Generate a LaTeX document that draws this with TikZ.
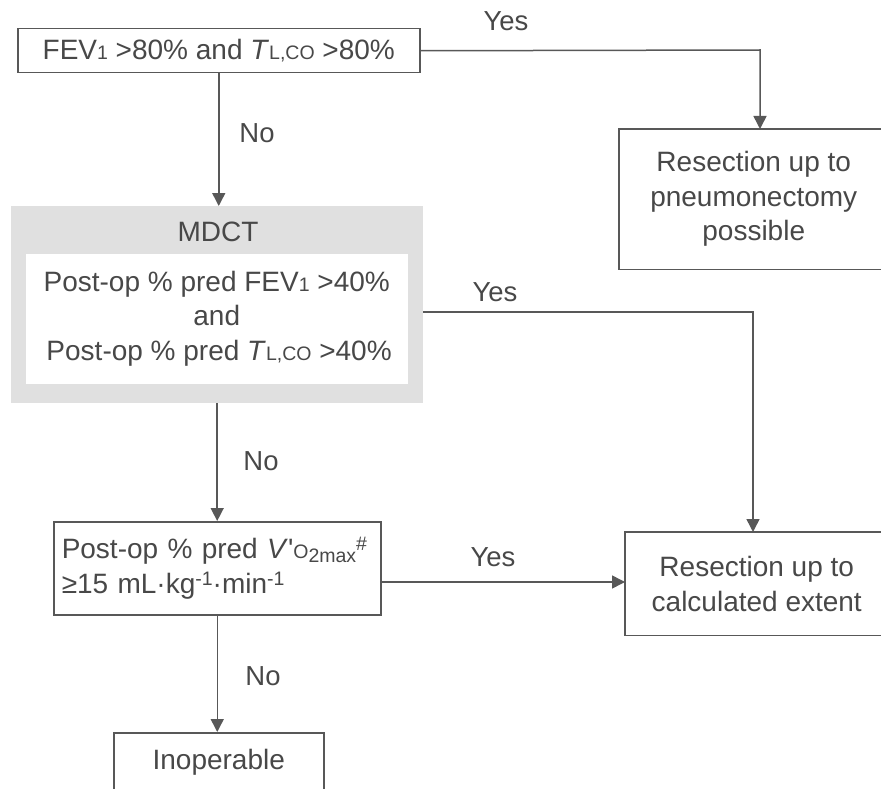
\documentclass[tikz,border=0pt]{standalone}
\usepackage{fontspec}
\setmainfont{Liberation Sans}
\usetikzlibrary{arrows.meta}

\definecolor{txtgray}{RGB}{72,72,72}
\definecolor{linegray}{RGB}{88,88,88}
\definecolor{mdctgray}{RGB}{224,224,224}
\newcommand{\smtxt}[1]{{\fontsize{19.5}{19.5}\selectfont #1}}
\newcommand{\TLco}{\textit{T}\smtxt{L,CO}}

\tikzset{
  flowbox/.style={draw=linegray, line width=1.5pt, fill=white, text=txtgray, inner sep=0pt,
    font=\fontsize{28}{34.5}\selectfont, align=center},
  openbox/.style={flowbox, draw=none},
  boxline/.style={draw=linegray, line width=1.5pt},
  lbl/.style={text=txtgray, font=\fontsize{27.5}{34}\selectfont, inner sep=0pt},
  arr/.style={draw=linegray, line width=1.5pt, -{Triangle[width=13pt,length=13pt]}},
}

\begin{document}
\begin{tikzpicture}[x=1pt,y=1pt,yscale=-1,xscale=1]
\useasboundingbox (0,0) rectangle (881,789);
\clip (0,0) rectangle (881,789);

%Boxes
\node[flowbox, minimum width=402pt, minimum height=44pt, anchor=north west] (fev) at (17,28)
  {FEV\smtxt{1} >80\% and \TLco{} >80\%};
\node[openbox, minimum width=268pt, minimum height=139pt, anchor=north west] (pneum) at (619,129)
  {Resection up to\\pneumonectomy\\possible};
\draw[boxline] (pneum.north east) ++(40,0) -- (pneum.north west) -- (pneum.south west) -- ++(310,0);

%Shape: MDCT panel
\node[fill=mdctgray, minimum width=412pt, minimum height=197pt, inner sep=0pt, anchor=north west] (mdct) at (11,206) {};
\node[lbl, font=\fontsize{28}{34}\selectfont] (mdcttitle) at (218,232) {MDCT};
\node[openbox, minimum width=382pt, minimum height=130pt, anchor=north west] (crit) at (25,253)
  {Post-op \% pred FEV\smtxt{1} >40\%\\and\\\,Post-op \% pred \TLco{} >40\%};

\node[flowbox, minimum width=327pt, minimum height=93pt, text width=311pt, inner xsep=8pt, align=left, anchor=north west] (vo2) at (53,521)
  {Post-op \% pred \textit{V}\textquotesingle\smtxt{O\raisebox{-4pt}{2max}}\raisebox{8pt}{\smtxt{\#}}\\
   ≥15 mL·kg\raisebox{8pt}{\smtxt{-1}}·min\raisebox{8pt}{\smtxt{-1}}};
\node[openbox, minimum width=262pt, minimum height=102pt, anchor=north west] (calc) at (625,532)
  {Resection up to\\calculated extent};
\draw[boxline] (calc.north east) ++(40,0) -- (calc.north west) -- (calc.south west) -- ++(300,0);
\node[flowbox, minimum width=210pt, minimum height=60pt, anchor=north west] (inop) at (113,732)
  {Inoperable};

%Connectors
\coordinate (yes1) at (760,50);
\coordinate (yes2) at (753,312);
\coordinate (yes3) at (380,582);
\draw[arr] (fev.east) -- (yes1) -- (yes1 |- pneum.north);
\draw[arr] (fev.south) -- (fev.south |- mdct.north);
\draw[arr] (mdct.east |- yes2) -- (yes2) -- (yes2 |- calc.north);
\draw[arr] (mdct.south) -- (mdct.south |- vo2.north);
\draw[arr] (vo2.east |- yes3) -- (calc.west |- yes3);
\draw[arr] (vo2.south) -- (vo2.south |- inop.north);

% Text Node
\node[lbl] (yestxt1) at (506,21) {Yes};
\node[lbl] (notxt1) at (257,133) {No};
\node[lbl] (yestxt2) at (495,292) {Yes};
\node[lbl] (notxt2) at (261,461) {No};
\node[lbl] (yestxt3) at (493,557) {Yes};
\node[lbl] (notxt3) at (263,676) {No};

\end{tikzpicture}
\end{document}
